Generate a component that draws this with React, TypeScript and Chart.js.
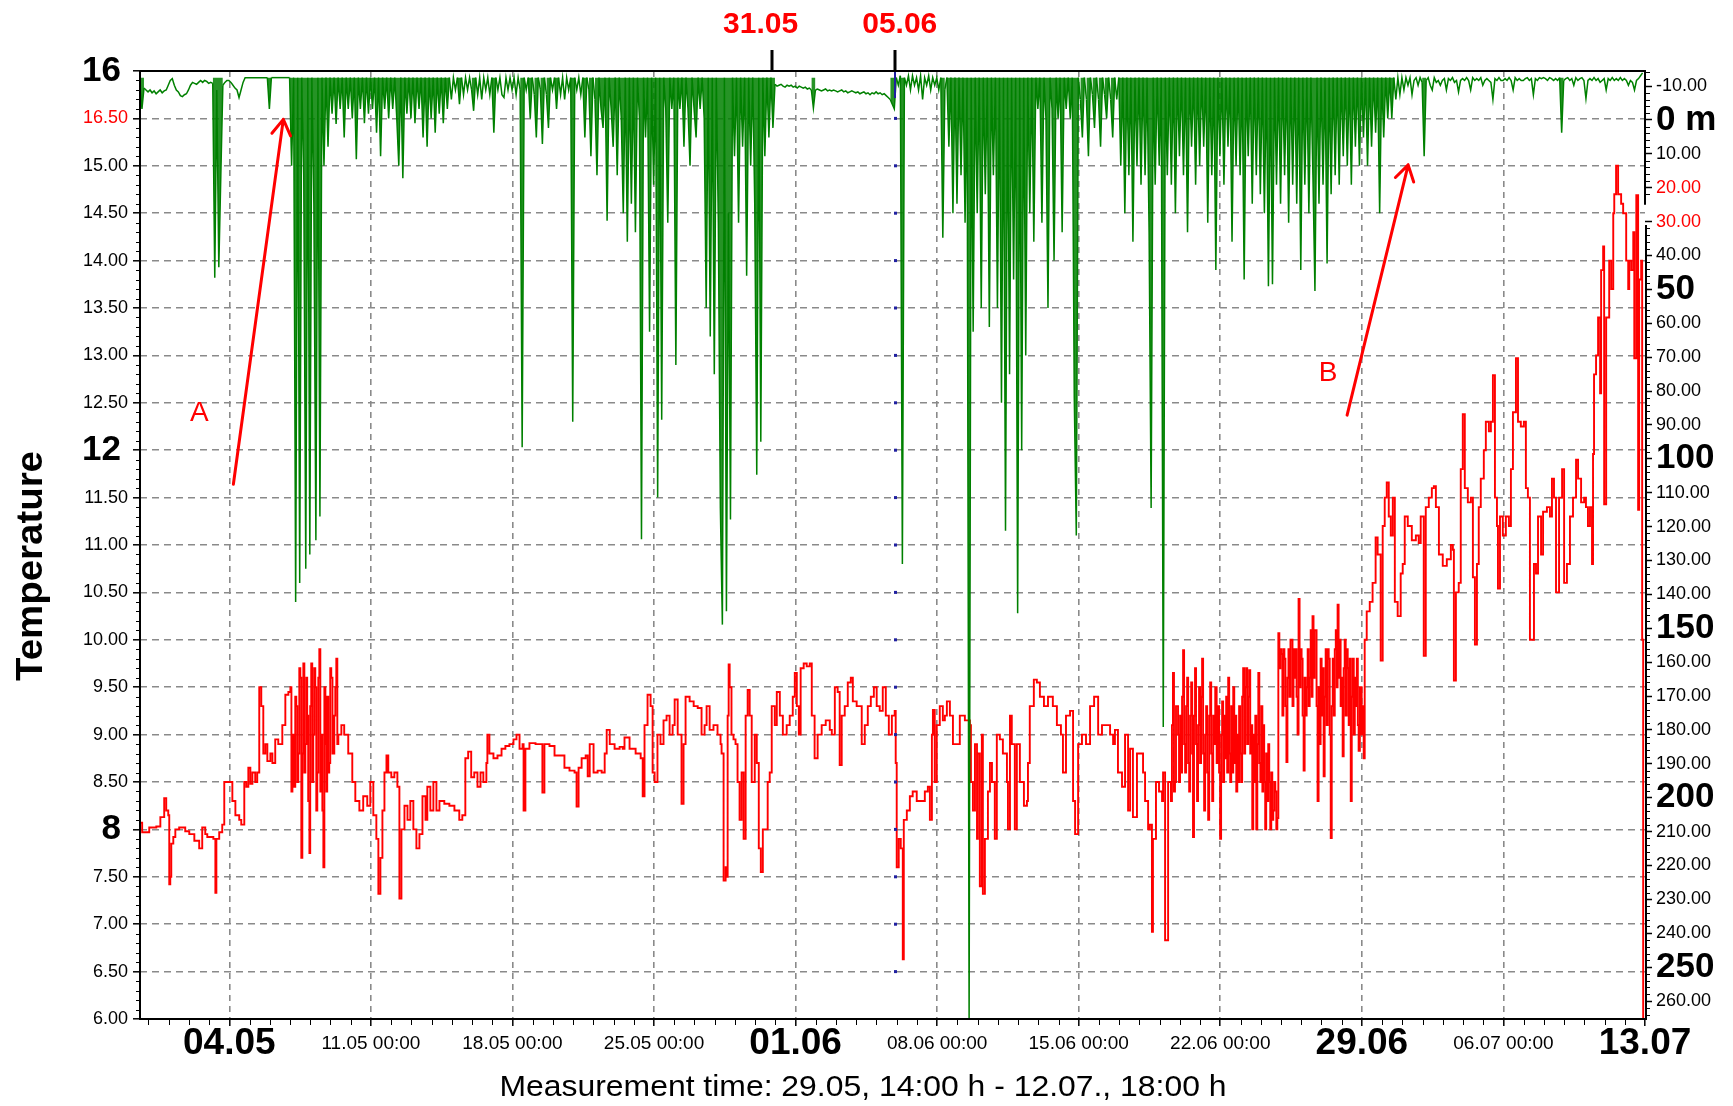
import React, { useEffect, useRef } from 'react';
import { Chart, registerables } from 'chart.js';

Chart.register(...registerables);

const FONT = '"Liberation Sans", Arial, Helvetica, sans-serif';

// ---- x axis: days since 01.05 00:00 ----
const xStartDay = -1.4167; // 29.04 14:00
const xEndDay = 73; // 13.07 00:00
const xTickDays = [3, 10, 17, 24, 31, 38, 45, 52, 59, 66, 73];
const xTickLabels = ['04.05', '11.05 00:00', '18.05 00:00', '25.05 00:00', '01.06', '08.06 00:00', '15.06 00:00', '22.06 00:00', '29.06', '06.07 00:00', '13.07'];
const xTickBold = [true, false, false, false, true, false, false, false, true, false, true];

// ---- left axis: temperature ----
const tempMin = 6;
const tempMax = 16;
const tempTickValues = [6, 6.5, 7, 7.5, 8, 8.5, 9, 9.5, 10, 10.5, 11, 11.5, 12, 12.5, 13, 13.5, 14, 14.5, 15, 15.5, 16];
const tempTickLabels = ['6.00', '6.50', '7.00', '7.50', '8\u2009', '8.50', '9.00', '9.50', '10.00', '10.50', '11.00', '11.50', '12\u2009', '12.50', '13.00', '13.50', '14.00', '14.50', '15.00', '16.50', '16\u2009'];
const tempTickStyles = ['n', 'n', 'n', 'n', 'b', 'n', 'n', 'n', 'n', 'n', 'n', 'n', 'b', 'n', 'n', 'n', 'n', 'n', 'n', 'r', 'b'];

// ---- right axis: depth ----
const depthMin = -14.43;
const depthMax = 265.3;
const depthTickValues = [-10, 0, 10, 20, 30, 40, 50, 60, 70, 80, 90, 100, 110, 120, 130, 140, 150, 160, 170, 180, 190, 200, 210, 220, 230, 240, 250, 260];
const depthTickLabels = ['-10.00', '0 m', '10.00', '20.00', '30.00', '40.00', '50', '60.00', '70.00', '80.00', '90.00', '100', '110.00', '120.00', '130.00', '140.00', '150', '160.00', '170.00', '180.00', '190.00', '200', '210.00', '220.00', '230.00', '240.00', '250', '260.00'];
const depthTickStyles = ['n', 'b', 'n', 'r', 'r', 'n', 'b', 'n', 'n', 'n', 'n', 'b', 'n', 'n', 'n', 'n', 'b', 'n', 'n', 'n', 'n', 'b', 'n', 'n', 'n', 'n', 'b', 'n'];
const depthAxisGap = [25, 31];

// ---- red series: [day, temperature] ----
const redSeries: [number, number][] = [
  [-1.37, 8.07], [-1.31, 7.97], [-0.96, 8.02], [-0.61, 8.03], [-0.41, 8.13], [-0.22, 8.33], [-0.12, 8.2], [-0.02, 8.15], [0.03, 7.42], [0.08, 7.5], [0.13, 7.85], [0.23, 7.92], [0.33, 8.0], [0.52, 8.02], [0.82, 7.98], [1.02, 7.95], [1.27, 7.88], [1.51, 7.8], [1.66, 8.02], [1.81, 7.95], [1.91, 7.92], [2.21, 7.9], [2.31, 7.33], [2.36, 7.9], [2.5, 7.97], [2.65, 8.05], [2.75, 8.5], [3.05, 8.5], [3.15, 8.3], [3.3, 8.15], [3.49, 8.1], [3.59, 8.05], [3.74, 8.5], [3.84, 8.45], [3.94, 8.65], [4.04, 8.48], [4.14, 8.6], [4.28, 8.5], [4.38, 8.6], [4.48, 9.5], [4.58, 9.3], [4.68, 8.8], [4.78, 8.9], [4.88, 8.72], [5.03, 8.8], [5.13, 8.7], [5.27, 8.95], [5.42, 8.9], [5.62, 9.1], [5.77, 9.42], [5.92, 9.45], [6.02, 9.5], [6.07, 8.4], [6.12, 9.0], [6.21, 8.45], [6.26, 9.4], [6.31, 9.3], [6.36, 8.5], [6.41, 8.8], [6.46, 9.7], [6.51, 9.6], [6.56, 7.7], [6.61, 8.8], [6.66, 9.75], [6.71, 8.6], [6.76, 8.9], [6.81, 9.6], [6.85, 9.2], [6.9, 8.3], [6.96, 7.75], [7.0, 9.3], [7.05, 9.75], [7.1, 8.5], [7.15, 9.0], [7.2, 9.7], [7.25, 9.5], [7.3, 8.2], [7.35, 8.6], [7.4, 9.6], [7.45, 9.9], [7.5, 8.4], [7.55, 9.0], [7.6, 8.2], [7.65, 7.6], [7.7, 9.5], [7.75, 8.9], [7.8, 8.4], [7.84, 9.4], [7.89, 8.6], [7.94, 8.7], [7.99, 9.7], [8.04, 9.6], [8.1, 8.8], [8.19, 9.2], [8.24, 9.5], [8.29, 9.8], [8.34, 8.9], [8.39, 9.0], [8.54, 9.1], [8.68, 9.0], [8.88, 8.8], [9.08, 8.5], [9.23, 8.3], [9.43, 8.2], [9.62, 8.35], [9.82, 8.25], [9.97, 8.5], [10.12, 8.15], [10.27, 7.9], [10.37, 7.32], [10.47, 7.7], [10.57, 8.2], [10.67, 8.6], [10.77, 8.78], [10.86, 8.6], [11.01, 8.55], [11.16, 8.6], [11.31, 8.45], [11.41, 7.27], [11.51, 8.0], [11.66, 8.25], [11.81, 8.1], [11.95, 8.3], [12.1, 8.0], [12.25, 7.8], [12.4, 7.95], [12.55, 8.35], [12.7, 8.1], [12.79, 8.45], [12.94, 8.2], [13.09, 8.5], [13.24, 8.2], [13.39, 8.3], [13.63, 8.27], [13.88, 8.25], [14.13, 8.2], [14.37, 8.1], [14.52, 8.15], [14.67, 8.75], [14.81, 8.82], [14.96, 8.55], [15.11, 8.6], [15.27, 8.45], [15.42, 8.6], [15.56, 8.5], [15.71, 8.7], [15.76, 9.0], [15.86, 8.8], [16.06, 8.75], [16.26, 8.78], [16.46, 8.85], [16.65, 8.88], [16.85, 8.9], [17.05, 8.95], [17.2, 9.0], [17.35, 8.85], [17.5, 8.9], [17.55, 8.2], [17.64, 8.85], [17.84, 8.91], [18.14, 8.9], [18.33, 8.9], [18.48, 8.39], [18.58, 8.9], [18.83, 8.88], [19.08, 8.78], [19.33, 8.78], [19.57, 8.65], [19.82, 8.62], [20.07, 8.6], [20.17, 8.24], [20.27, 8.65], [20.42, 8.75], [20.62, 8.78], [20.72, 8.56], [20.82, 8.9], [21.01, 8.6], [21.21, 8.62], [21.41, 8.6], [21.56, 8.8], [21.66, 9.05], [21.81, 8.9], [22.05, 8.85], [22.3, 8.87], [22.45, 8.85], [22.54, 8.97], [22.79, 8.85], [23.09, 8.8], [23.34, 8.75], [23.44, 8.35], [23.53, 9.1], [23.68, 9.42], [23.83, 9.3], [23.93, 8.6], [24.03, 8.5], [24.17, 9.0], [24.32, 8.9], [24.47, 9.15], [24.62, 9.2], [24.77, 9.0], [24.92, 9.1], [25.02, 9.37], [25.17, 9.0], [25.36, 8.27], [25.46, 8.9], [25.56, 9.4], [25.76, 9.35], [25.96, 9.3], [26.16, 9.28], [26.35, 9.0], [26.5, 9.1], [26.6, 9.3], [26.75, 9.05], [26.94, 9.1], [27.14, 9.0], [27.29, 8.9], [27.34, 8.8], [27.44, 7.46], [27.54, 7.6], [27.59, 7.5], [27.64, 9.2], [27.69, 9.74], [27.74, 9.5], [27.83, 9.0], [27.93, 8.95], [28.03, 8.9], [28.13, 8.5], [28.23, 8.1], [28.33, 8.6], [28.43, 7.9], [28.53, 9.2], [28.63, 9.47], [28.73, 9.2], [28.83, 8.5], [28.98, 9.0], [29.08, 8.7], [29.18, 7.8], [29.28, 7.55], [29.38, 8.0], [29.52, 8.0], [29.62, 8.5], [29.72, 8.6], [29.82, 9.3], [29.97, 9.1], [30.07, 9.45], [30.22, 9.2], [30.37, 9.0], [30.56, 9.1], [30.71, 9.2], [30.86, 9.4], [30.96, 9.65], [31.06, 9.3], [31.16, 9.0], [31.25, 9.7], [31.4, 9.75], [31.55, 9.72], [31.7, 9.75], [31.8, 9.2], [31.94, 8.75], [32.09, 9.0], [32.29, 9.1], [32.49, 9.15], [32.69, 9.05], [32.79, 9.0], [32.94, 9.5], [33.08, 9.45], [33.18, 8.68], [33.28, 9.2], [33.43, 9.3], [33.58, 9.55], [33.73, 9.6], [33.83, 9.35], [34.02, 9.3], [34.27, 8.9], [34.42, 9.1], [34.57, 9.3], [34.72, 9.4], [34.87, 9.5], [35.01, 9.3], [35.16, 9.25], [35.31, 9.5], [35.46, 9.2], [35.61, 9.0], [35.76, 9.2], [35.9, 9.25], [35.95, 8.7], [36.0, 7.6], [36.1, 7.9], [36.2, 7.8], [36.3, 6.63], [36.35, 8.1], [36.5, 8.2], [36.65, 8.35], [36.79, 8.4], [36.99, 8.3], [37.19, 8.3], [37.39, 8.4], [37.54, 8.45], [37.64, 8.1], [37.74, 9.0], [37.79, 9.26], [37.88, 8.5], [37.98, 9.1], [38.13, 9.3], [38.28, 9.15], [38.38, 9.2], [38.48, 9.35], [38.63, 9.2], [38.78, 8.9], [38.97, 8.9], [39.12, 9.2], [39.37, 9.15], [39.62, 9.1], [39.67, 8.5], [39.77, 8.2], [39.87, 8.9], [39.97, 7.9], [40.01, 8.8], [40.11, 7.4], [40.21, 9.0], [40.26, 7.32], [40.36, 7.9], [40.51, 8.4], [40.61, 8.7], [40.71, 8.5], [40.85, 7.9], [40.95, 9.0], [41.1, 8.95], [41.25, 8.8], [41.45, 8.5], [41.5, 8.0], [41.6, 9.2], [41.69, 8.9], [41.84, 8.0], [41.94, 8.9], [42.09, 8.5], [42.29, 8.25], [42.44, 8.3], [42.49, 8.7], [42.58, 9.3], [42.78, 9.58], [42.93, 9.55], [43.08, 9.4], [43.28, 9.3], [43.48, 9.4], [43.72, 9.3], [43.92, 9.1], [44.12, 9.0], [44.22, 8.6], [44.37, 9.2], [44.57, 9.25], [44.72, 8.3], [44.82, 7.95], [44.97, 8.9], [45.16, 9.0], [45.36, 8.9], [45.56, 9.3], [45.76, 9.4], [45.96, 9.0], [46.15, 9.1], [46.35, 9.1], [46.55, 9.0], [46.7, 8.9], [46.79, 9.05], [46.94, 8.6], [47.14, 8.45], [47.29, 9.0], [47.44, 8.2], [47.54, 8.85], [47.68, 8.13], [47.88, 8.8], [48.03, 8.8], [48.18, 8.6], [48.28, 8.3], [48.43, 8.0], [48.52, 8.05], [48.62, 6.92], [48.67, 7.9], [48.82, 8.5], [48.97, 8.4], [49.12, 8.3], [49.17, 8.6], [49.27, 6.83], [49.42, 8.5], [49.56, 8.3], [49.61, 9.1], [49.66, 9.65], [49.71, 8.4], [49.76, 8.5], [49.81, 9.3], [49.91, 9.0], [49.96, 8.5], [50.01, 9.2], [50.06, 8.6], [50.11, 9.4], [50.16, 9.89], [50.21, 8.9], [50.26, 8.6], [50.31, 9.3], [50.36, 9.6], [50.41, 8.7], [50.46, 8.4], [50.51, 9.2], [50.56, 9.55], [50.61, 8.8], [50.65, 7.92], [50.7, 9.2], [50.75, 9.7], [50.8, 8.9], [50.85, 8.3], [50.9, 9.1], [50.95, 9.5], [51.0, 8.7], [51.05, 9.4], [51.1, 9.8], [51.15, 8.8], [51.2, 8.2], [51.25, 9.0], [51.3, 9.3], [51.35, 8.6], [51.4, 8.1], [51.45, 9.2], [51.5, 9.55], [51.55, 8.8], [51.6, 8.3], [51.65, 9.2], [51.7, 8.9], [51.75, 9.5], [51.82, 8.7], [51.89, 9.3], [51.94, 8.6], [51.99, 7.9], [52.04, 9.0], [52.09, 9.35], [52.14, 8.5], [52.19, 9.2], [52.24, 8.75], [52.29, 9.4], [52.34, 8.6], [52.39, 9.6], [52.44, 8.8], [52.49, 8.5], [52.54, 9.3], [52.59, 8.6], [52.64, 9.5], [52.69, 8.7], [52.74, 9.2], [52.79, 8.4], [52.84, 9.0], [52.89, 8.5], [52.93, 9.3], [52.98, 8.8], [53.03, 8.5], [53.08, 9.4], [53.13, 9.7], [53.18, 8.8], [53.23, 9.5], [53.28, 9.7], [53.33, 8.9], [53.38, 9.4], [53.43, 9.68], [53.48, 8.8], [53.53, 9.1], [53.58, 8.0], [53.63, 9.0], [53.68, 8.5], [53.73, 9.2], [53.78, 8.0], [53.83, 8.9], [53.88, 9.65], [53.93, 8.7], [53.98, 8.5], [54.03, 9.3], [54.08, 8.4], [54.12, 9.1], [54.17, 8.5], [54.22, 8.0], [54.27, 8.8], [54.32, 8.3], [54.37, 8.9], [54.42, 8.5], [54.47, 8.0], [54.52, 8.6], [54.57, 8.1], [54.62, 8.2], [54.67, 8.5], [54.72, 8.4], [54.77, 8.0], [54.82, 8.12], [54.87, 10.07], [54.92, 9.7], [54.97, 9.9], [55.02, 9.85], [55.07, 9.2], [55.12, 9.9], [55.17, 9.8], [55.22, 9.3], [55.27, 8.71], [55.32, 9.6], [55.37, 9.9], [55.42, 9.4], [55.47, 10.0], [55.52, 10.0], [55.57, 9.3], [55.62, 9.9], [55.67, 9.6], [55.72, 9.9], [55.77, 9.4], [55.82, 9.0], [55.87, 10.43], [55.92, 9.5], [55.97, 9.9], [56.02, 9.8], [56.07, 9.2], [56.12, 8.62], [56.17, 9.6], [56.22, 9.2], [56.27, 9.5], [56.32, 9.9], [56.37, 9.3], [56.42, 9.6], [56.47, 10.1], [56.52, 9.4], [56.56, 10.25], [56.61, 9.6], [56.66, 10.1], [56.71, 10.1], [56.76, 9.3], [56.81, 8.3], [56.86, 9.5], [56.91, 8.9], [56.96, 9.8], [57.01, 9.2], [57.06, 9.7], [57.11, 8.56], [57.16, 9.4], [57.21, 9.9], [57.26, 9.1], [57.31, 9.9], [57.36, 9.8], [57.41, 9.0], [57.46, 7.91], [57.51, 9.3], [57.56, 9.8], [57.61, 9.2], [57.66, 9.9], [57.71, 10.1], [57.76, 9.5], [57.8, 10.37], [57.85, 9.6], [57.9, 10.0], [57.95, 9.3], [58.0, 9.6], [58.05, 8.77], [58.1, 9.7], [58.15, 10.0], [58.2, 9.2], [58.25, 9.9], [58.3, 9.7], [58.35, 9.1], [58.4, 9.8], [58.45, 8.3], [58.5, 9.4], [58.55, 9.8], [58.6, 9.0], [58.65, 9.6], [58.7, 9.3], [58.75, 9.8], [58.8, 9.1], [58.84, 8.83], [58.9, 9.5], [58.99, 9.0], [59.04, 9.3], [59.09, 8.75], [59.14, 10.0], [59.24, 10.3], [59.39, 10.4], [59.53, 10.6], [59.68, 11.08], [59.78, 10.9], [59.93, 9.78], [60.03, 11.2], [60.13, 11.5], [60.23, 11.66], [60.33, 11.3], [60.43, 11.1], [60.53, 11.5], [60.63, 10.4], [60.77, 10.25], [60.92, 10.7], [61.02, 10.8], [61.12, 11.3], [61.27, 11.2], [61.47, 11.05], [61.67, 11.1], [61.81, 11.02], [61.91, 11.3], [62.06, 9.83], [62.16, 11.4], [62.31, 11.5], [62.46, 11.6], [62.56, 11.62], [62.66, 11.4], [62.81, 10.9], [63.0, 10.78], [63.2, 10.85], [63.4, 11.0], [63.5, 10.95], [63.55, 9.57], [63.65, 10.5], [63.79, 10.6], [63.89, 11.8], [63.99, 12.38], [64.09, 11.6], [64.24, 11.45], [64.39, 11.5], [64.49, 10.66], [64.59, 9.95], [64.69, 10.8], [64.78, 11.4], [64.88, 11.7], [65.03, 12.0], [65.13, 12.3], [65.28, 12.2], [65.38, 12.3], [65.48, 12.79], [65.58, 11.5], [65.68, 11.2], [65.73, 10.54], [65.83, 11.3], [65.97, 11.1], [66.12, 11.3], [66.27, 11.2], [66.37, 11.8], [66.47, 12.4], [66.62, 12.97], [66.72, 12.3], [66.86, 12.25], [67.01, 12.3], [67.11, 11.6], [67.21, 11.5], [67.31, 10.0], [67.41, 10.0], [67.51, 10.8], [67.61, 10.7], [67.71, 11.3], [67.86, 10.9], [67.96, 11.35], [68.15, 11.4], [68.3, 11.3], [68.4, 11.7], [68.5, 11.5], [68.6, 10.5], [68.75, 11.5], [68.9, 11.8], [69.0, 10.6], [69.14, 10.8], [69.29, 11.3], [69.44, 11.5], [69.59, 11.9], [69.69, 11.7], [69.84, 11.45], [69.99, 11.5], [70.08, 11.4], [70.18, 11.2], [70.28, 11.4], [70.38, 10.8], [70.43, 11.96], [70.48, 12.8], [70.58, 13.0], [70.68, 13.4], [70.78, 12.6], [70.83, 13.9], [70.93, 14.15], [70.98, 11.43], [71.08, 13.4], [71.23, 14.0], [71.33, 13.7], [71.43, 14.5], [71.48, 14.7], [71.57, 15.0], [71.67, 14.7], [71.82, 14.6], [71.92, 14.5], [72.07, 14.0], [72.17, 13.7], [72.22, 14.0], [72.32, 13.9], [72.42, 14.3], [72.47, 12.97], [72.57, 14.69], [72.66, 11.37], [72.71, 13.8], [72.81, 14.0], [72.86, 10.0], [72.91, 6.0],
];

// ---- green series: temperature sampled every 0.1 day from 29.04 14:00 ----
const greenStartDay = -1.42;
const greenStepDays = 0.1;
const greenTemps: number[] = [
  15.85, 15.6, 15.82, 15.8, 15.78, 15.8, 15.77, 15.79, 15.76, 15.78, 15.8, 15.77, 15.79, 15.8,
  15.85, 15.9, 15.92, 15.85, 15.8, 15.78, 15.74, 15.73, 15.75, 15.76, // day 0
  15.8, 15.85, 15.88, 15.87, 15.86, 15.88, 15.9, 15.88, 15.9, 15.89, // day 1
  15.87, 15.88, 15.87, 13.82, 15.8, 13.93, 14.9, 15.85, 15.88, 15.9, // day 2
  15.9, 15.88, 15.85, 15.82, 15.8, 15.72, 15.8, 15.88, 15.93, 15.93, // day 3
  15.93, 15.93, 15.93, 15.93, 15.93, 15.93, 15.93, 15.93, 15.93, 15.93, // day 4
  15.6, 15.93, 15.93, 15.93, 15.93, 15.93, 15.93, 15.93, 15.93, 15.93, // day 5
  15.93, 15.0, 15.93, 10.4, 15.93, 10.6, 15.93, 14.9, 10.75, 15.93, // day 6
  10.9, 15.93, 14.6, 11.05, 15.93, 11.3, 15.93, 15.0, 15.93, 15.2, // day 7
  15.93, 15.55, 15.93, 15.44, 15.93, 15.6, 15.93, 15.3, 15.93, 15.6, // day 8
  15.93, 15.5, 15.93, 15.07, 15.93, 15.6, 15.93, 15.45, 15.93, 15.55, // day 9
  15.93, 15.6, 15.93, 15.35, 15.93, 15.1, 15.93, 15.6, 15.93, 15.5, // day 10
  15.93, 15.6, 15.93, 15.5, 15.0, 15.93, 14.87, 15.93, 15.55, 15.93, // day 11
  15.5, 15.93, 15.45, 15.93, 15.6, 15.93, 15.3, 15.93, 15.2, 15.93, // day 12
  15.5, 15.93, 15.35, 15.93, 15.55, 15.93, 15.45, 15.93, 15.6, 15.93, // day 13
  15.7, 15.93, 15.8, 15.93, 15.65, 15.93, 15.75, 15.93, 15.8, 15.93, // day 14
  15.8, 15.58, 15.93, 15.75, 15.93, 15.7, 15.93, 15.8, 15.93, 15.75, // day 15
  15.93, 15.35, 15.93, 15.8, 15.93, 15.75, 15.72, 15.93, 15.8, 15.93, // day 16
  15.8, 15.93, 15.75, 15.93, 15.8, 12.03, 15.93, 15.8, 15.93, 15.5, // day 17
  15.93, 15.75, 15.3, 15.93, 15.8, 15.23, 15.93, 15.75, 15.4, 15.93, // day 18
  15.8, 15.93, 15.6, 15.93, 15.75, 15.93, 15.7, 15.93, 15.8, 15.93, // day 19
  12.3, 15.93, 15.8, 15.93, 15.75, 15.93, 15.3, 15.93, 15.8, 15.1, // day 20
  15.93, 15.7, 14.9, 15.93, 15.6, 15.4, 15.93, 14.42, 15.93, 15.6, // day 21
  15.2, 15.93, 14.9, 15.93, 15.5, 14.5, 15.93, 14.2, 15.93, 14.6, // day 22
  15.93, 14.3, 15.93, 15.5, 11.06, 15.93, 15.3, 15.93, 13.25, 15.93, // day 23
  14.8, 15.93, 11.5, 15.93, 12.32, 15.93, 15.6, 14.4, 15.93, 15.6, // day 24
  15.93, 12.9, 15.93, 15.6, 15.93, 15.2, 15.93, 15.6, 15.0, 15.93, // day 25
  15.6, 15.3, 15.93, 15.6, 15.93, 15.5, 13.5, 15.93, 13.2, 15.93, // day 26
  12.8, 15.93, 14.4, 11.39, 10.16, 15.93, 10.3, 14.5, 11.27, 15.93, // day 27
  15.1, 15.93, 14.4, 15.93, 15.2, 15.93, 13.84, 15.93, 15.0, 15.93, // day 28
  14.6, 11.74, 15.93, 12.09, 15.93, 15.1, 15.93, 15.3, 15.93, 15.4, // day 29
  15.86, 15.84, 15.85, 15.86, 15.84, 15.83, 15.85, 15.84, 15.85, 15.83, // day 30
  15.84, 15.82, 15.84, 15.83, 15.82, 15.83, 15.81, 15.82, 15.8, 15.61, // day 31
  15.8, 15.81, 15.8, 15.79, 15.8, 15.81, 15.79, 15.8, 15.79, 15.8, // day 32
  15.79, 15.78, 15.79, 15.8, 15.78, 15.79, 15.77, 15.78, 15.79, 15.78, // day 33
  15.77, 15.78, 15.76, 15.77, 15.78, 15.76, 15.77, 15.75, 15.77, 15.76, // day 34
  15.78, 15.76, 15.77, 15.75, 15.76, 15.74, 15.72, 15.7, 15.65, 15.6, // day 35
  15.93, 15.85, 15.95, 10.8, 15.93, 15.85, 15.95, 15.8, 15.95, 15.85, // day 36
  15.93, 15.8, 15.95, 15.7, 15.93, 15.85, 15.95, 15.8, 15.93, 15.85, // day 37
  15.93, 15.8, 15.93, 14.24, 15.8, 15.93, 15.2, 15.93, 14.5, 15.93, // day 38
  14.6, 15.93, 14.9, 15.93, 14.4, 15.93, 6.0, 15.93, 13.25, 15.93, // day 39
  14.5, 15.93, 13.5, 15.93, 14.7, 15.93, 13.3, 15.93, 14.9, 15.93, // day 40
  13.5, 15.93, 12.5, 15.93, 11.15, 15.93, 12.8, 15.93, 13.8, 15.93, // day 41
  10.28, 15.93, 12.0, 15.93, 13.0, 15.93, 14.5, 15.93, 14.2, 15.93, // day 42
  15.6, 15.93, 14.4, 15.93, 15.5, 13.5, 15.93, 15.6, 14.0, 15.93, // day 43
  15.5, 15.93, 14.3, 15.93, 15.6, 15.93, 15.5, 15.93, 12.55, 11.1, // day 44
  15.93, 15.7, 15.3, 15.93, 15.7, 15.1, 15.93, 15.75, 15.4, 15.93, // day 45
  15.7, 15.2, 15.93, 15.75, 15.5, 15.93, 15.7, 15.3, 15.93, 15.7, // day 46
  15.93, 15.0, 15.93, 14.5, 15.93, 14.9, 15.93, 14.2, 15.93, 15.0, // day 47
  15.93, 14.8, 15.93, 14.9, 15.93, 14.3, 11.39, 15.93, 14.8, 15.93, // day 48
  15.0, 15.93, 9.08, 15.93, 14.9, 15.93, 14.8, 15.93, 14.5, 15.93, // day 49
  15.1, 15.93, 14.9, 15.93, 14.3, 15.93, 15.2, 15.93, 14.8, 15.93, // day 50
  15.0, 15.93, 15.2, 15.93, 14.4, 15.93, 14.9, 15.93, 13.9, 15.93, // day 51
  15.1, 15.93, 14.8, 15.93, 15.2, 15.93, 14.2, 15.93, 15.0, 15.93, // day 52
  14.9, 15.93, 13.8, 15.93, 15.1, 15.93, 14.6, 15.93, 14.9, 15.93, // day 53
  14.7, 15.93, 14.5, 15.93, 13.73, 15.93, 13.75, 15.93, 14.8, 15.93, // day 54
  14.6, 15.93, 14.9, 15.93, 14.4, 15.93, 14.8, 15.93, 14.6, 15.93, // day 55
  13.9, 15.93, 14.8, 15.93, 14.5, 15.93, 14.9, 13.68, 15.93, 14.6, // day 56
  15.93, 14.8, 15.93, 13.97, 15.93, 14.7, 15.93, 14.9, 15.93, 14.8, // day 57
  15.93, 15.1, 15.93, 15.0, 15.93, 14.8, 15.93, 15.2, 15.93, 15.0, // day 58
  15.93, 15.3, 15.93, 15.0, 15.93, 15.2, 15.93, 15.35, 15.93, 14.5, // day 59
  15.93, 15.3, 15.93, 15.5, 15.93, 15.5, 15.93, 15.7, 15.93, 15.75, // day 60
  15.93, 15.8, 15.93, 15.85, 15.93, 15.75, 15.9, 15.93, 15.85, 15.93, // day 61
  15.88, 15.1, 15.9, 15.93, 15.85, 15.8, 15.93, 15.88, 15.9, 15.85, // day 62
  15.9, 15.92, 15.8, 15.92, 15.9, 15.93, 15.88, 15.9, 15.78, 15.9, // day 63
  15.92, 15.9, 15.93, 15.9, 15.8, 15.93, 15.9, 15.92, 15.9, 15.93, // day 64
  15.85, 15.9, 15.92, 15.9, 15.88, 15.7, 15.92, 15.9, 15.93, 15.9, // day 65
  15.9, 15.92, 15.9, 15.93, 15.9, 15.8, 15.93, 15.9, 15.92, 15.9, // day 66
  15.9, 15.92, 15.93, 15.9, 15.92, 15.75, 15.92, 15.9, 15.93, 15.92, // day 67
  15.93, 15.92, 15.9, 15.93, 15.92, 15.9, 15.92, 15.9, 15.93, 15.35, // day 68
  15.9, 15.92, 15.93, 15.9, 15.92, 15.85, 15.93, 15.9, 15.92, 15.93, // day 69
  15.9, 15.71, 15.9, 15.92, 15.9, 15.93, 15.9, 15.92, 15.88, 15.9, // day 70
  15.92, 15.8, 15.92, 15.9, 15.93, 15.9, 15.92, 15.9, 15.93, 15.9, // day 71
  15.92, 15.9, 15.85, 15.9, 15.88, 15.8, 15.9, 15.92, 15.95, 15.98, // day 72
];
// spikes below this level are drawn as a filled comb up to the surface line
const greenFillBelow = 15.68;
const greenSurface = 15.93;

// ---- annotations (data coordinates: day, temperature) ----
const topMarkerDays = [29.82, 35.9];
const topMarkerLabelDays = [29.27, 36.15];
const topMarkerLabels = ['31.05', '05.06'];
const arrowA = { from: [3.2, 11.64], to: [5.67, 15.49], label: 'A', labelAt: [1.52, 12.39] };
const arrowB = { from: [58.27, 12.37], to: [61.29, 15.01], label: 'B', labelAt: [57.33, 12.81] };
const blueMarkerDay = 35.9;

const xTitle = 'Measurement time: 29.05, 14:00 h - 12.07., 18:00 h';
const yTitle = 'Temperature';

function fitText(ctx: CanvasRenderingContext2D, text: string, cx: number, cy: number, font: string, width: number, color: string, rot = 0) {
  ctx.save();
  ctx.font = font;
  ctx.fillStyle = color;
  ctx.textAlign = 'center';
  ctx.textBaseline = 'middle';
  const w = ctx.measureText(text).width;
  ctx.translate(cx, cy);
  if (rot) ctx.rotate(rot);
  ctx.scale(width / w, 1);
  ctx.fillText(text, 0, 0);
  ctx.restore();
}

function drawArrow(ctx: CanvasRenderingContext2D, x1: number, y1: number, x2: number, y2: number, head: number) {
  const ang = Math.atan2(y2 - y1, x2 - x1);
  ctx.beginPath();
  ctx.moveTo(x1, y1);
  ctx.lineTo(x2, y2);
  ctx.moveTo(x2, y2);
  ctx.lineTo(x2 - head * Math.cos(ang - 0.55), y2 - head * Math.sin(ang - 0.55));
  ctx.moveTo(x2, y2);
  ctx.lineTo(x2 - head * Math.cos(ang + 0.55), y2 - head * Math.sin(ang + 0.55));
  ctx.stroke();
}

const overlayPlugin = {
  id: 'overlay',
  afterDraw(chart: any) {
    const { ctx, chartArea: ca } = chart;
    const sx = chart.scales.x;
    const sy = chart.scales.y;
    const sd = chart.scales.y2;
    ctx.save();

    // blue marker
    const bx = Math.round(sx.getPixelForValue(blueMarkerDay));
    ctx.fillStyle = '#2020a0';
    ctx.fillRect(bx - 1, ca.top, 2, 27);
    for (const v of tempTickValues) {
      if (v <= tempMin || v >= tempMax) continue;
      ctx.fillRect(bx - 1, sy.getPixelForValue(v) - 1.5, 3, 3);
    }

    // minor ticks
    ctx.strokeStyle = '#000';
    ctx.lineWidth = 1;
    ctx.beginPath();
    for (let i = 60; i <= 160; i++) {
      if (i % 5 === 0) continue;
      const py = Math.round(sy.getPixelForValue(i / 10)) + 0.5;
      ctx.moveTo(ca.left - 4, py);
      ctx.lineTo(ca.left, py);
    }
    for (let d = -14; d <= 264; d += 2) {
      if (d % 10 === 0) continue;
      if (d > depthAxisGap[0] - 2 && d < depthAxisGap[1]) continue;
      const py = Math.round(sd.getPixelForValue(d)) + 0.5;
      ctx.moveTo(ca.right, py);
      ctx.lineTo(ca.right + 5, py);
    }
    for (let d = -1; d <= 73; d++) {
      if (xTickDays.includes(d)) continue;
      const px = Math.round(sx.getPixelForValue(d)) + 0.5;
      ctx.moveTo(px, ca.bottom);
      ctx.lineTo(px, ca.bottom + 6);
    }
    ctx.stroke();

    // frame
    ctx.lineWidth = 2;
    ctx.beginPath();
    ctx.moveTo(ca.left, ca.top);
    ctx.lineTo(ca.right + 1, ca.top);
    ctx.moveTo(ca.left, ca.top);
    ctx.lineTo(ca.left, ca.bottom + 1);
    ctx.moveTo(ca.left, ca.bottom);
    ctx.lineTo(ca.right + 1, ca.bottom);
    ctx.moveTo(ca.right, ca.top);
    ctx.lineTo(ca.right, sd.getPixelForValue(depthAxisGap[0]));
    ctx.moveTo(ca.right + 1, sd.getPixelForValue(depthAxisGap[1]));
    ctx.lineTo(ca.right + 1, ca.bottom + 1);
    ctx.stroke();

    // top markers
    ctx.lineWidth = 3;
    ctx.beginPath();
    for (const d of topMarkerDays) {
      const px = Math.round(sx.getPixelForValue(d));
      ctx.moveTo(px, ca.top - 21);
      ctx.lineTo(px, ca.top);
    }
    ctx.stroke();
    ctx.fillStyle = '#ff0000';
    ctx.font = `bold 30px ${FONT}`;
    ctx.textAlign = 'center';
    ctx.textBaseline = 'middle';
    topMarkerLabels.forEach((t, i) => {
      ctx.fillText(t, sx.getPixelForValue(topMarkerLabelDays[i]), 25);
    });

    // arrows
    ctx.strokeStyle = '#ff0000';
    ctx.lineWidth = 3;
    ctx.lineCap = 'round';
    for (const a of [arrowA, arrowB]) {
      drawArrow(ctx, sx.getPixelForValue(a.from[0]), sy.getPixelForValue(a.from[1]), sx.getPixelForValue(a.to[0]), sy.getPixelForValue(a.to[1]), 18);
      ctx.font = `28px ${FONT}`;
      ctx.fillText(a.label, sx.getPixelForValue(a.labelAt[0]), sy.getPixelForValue(a.labelAt[1]));
    }

    // axis titles
    fitText(ctx, xTitle, 863, 1088, `30px ${FONT}`, 727, '#000');
    fitText(ctx, yTitle, 32, 566, `bold 36px ${FONT}`, 230, '#000', -Math.PI / 2);
    ctx.restore();
  },
};

const gridColor = '#8a8a8a';

export default function App() {
  const ref = useRef<HTMLCanvasElement>(null);
  useEffect(() => {
    if (!ref.current) return;
    const chart = new Chart(ref.current, {
      type: 'line',
      data: {
        datasets: [
          {
            label: 'green',
            data: greenTemps.map((y, i) => ({ x: greenStartDay + i * greenStepDays, y })),
            borderColor: '#008000',
            backgroundColor: 'rgba(0,128,0,0)',
            borderWidth: 1.5,
            pointRadius: 0,
            tension: 0,
            fill: { value: greenSurface },
            segment: {
              backgroundColor: (c: any) => (Math.min(c.p0.parsed.y, c.p1.parsed.y) < greenFillBelow ? 'rgba(0,128,0,0.85)' : 'rgba(0,128,0,0)'),
            },
            yAxisID: 'y',
          },
          {
            label: 'red',
            data: redSeries.map(([x, y]) => ({ x, y })),
            borderColor: '#ff0000',
            borderWidth: 1.9,
            pointRadius: 0,
            stepped: 'before',
            fill: false,
            yAxisID: 'y',
          },
        ],
      },
      plugins: [overlayPlugin],
      options: {
        responsive: false,
        animation: false,
        events: [],
        layout: { padding: { top: 71, left: 0, right: 0, bottom: 0 } },
        plugins: { legend: { display: false }, tooltip: { enabled: false }, title: { display: false }, filler: { propagate: false } },
        scales: {
          x: {
            type: 'linear',
            position: 'bottom',
            min: xStartDay,
            max: xEndDay,
            afterBuildTicks: (s: any) => { s.ticks = xTickDays.map((v) => ({ value: v })); },
            afterFit: (s: any) => { s.height = 87; },
            border: { display: false, dash: [6, 5] },
            grid: {
              color: (c: any) => (c.tick && c.tick.value >= xEndDay ? 'rgba(0,0,0,0)' : gridColor),
              lineWidth: 1.6,
              tickColor: '#000',
              tickLength: 7,
              tickWidth: 1.5,
            },
            ticks: {
              autoSkip: false,
              maxRotation: 0,
              padding: 0,
              color: '#000',
              font: (c: any) => (xTickBold[c.index] ? { family: FONT, size: 37, weight: 'bold', lineHeight: '36px' } : { family: FONT, size: 19, lineHeight: '36px' }),
              callback: (_v: any, i: number) => xTickLabels[i],
            },
          },
          y: {
            type: 'linear',
            position: 'left',
            min: tempMin,
            max: tempMax,
            afterBuildTicks: (s: any) => { s.ticks = tempTickValues.map((v) => ({ value: v })); },
            afterFit: (s: any) => { s.width = 140; },
            border: { display: false, dash: [7, 5] },
            grid: {
              color: (c: any) => (c.tick && (c.tick.value <= tempMin || c.tick.value >= tempMax) ? 'rgba(0,0,0,0)' : gridColor),
              lineWidth: 1.6,
              tickColor: '#000',
              tickLength: 7,
              tickWidth: 1.5,
            },
            ticks: {
              autoSkip: false,
              padding: 5,
              color: (c: any) => (tempTickStyles[c.index] === 'r' ? '#ff0000' : '#000'),
              font: (c: any) => (tempTickStyles[c.index] === 'b' ? { family: FONT, size: 35, weight: 'bold' } : { family: FONT, size: 18 }),
              callback: (_v: any, i: number) => tempTickLabels[i],
            },
          },
          y2: {
            type: 'linear',
            position: 'right',
            reverse: true,
            min: depthMin,
            max: depthMax,
            afterBuildTicks: (s: any) => { s.ticks = depthTickValues.map((v) => ({ value: v })); },
            afterFit: (s: any) => { s.width = 88; },
            border: { display: false },
            grid: {
              drawOnChartArea: false,
              color: '#000',
              tickColor: '#000',
              tickLength: 7,
              tickWidth: 1.5,
            },
            ticks: {
              autoSkip: false,
              padding: 4,
              color: (c: any) => (depthTickStyles[c.index] === 'r' ? '#ff0000' : '#000'),
              font: (c: any) => (depthTickStyles[c.index] === 'b' ? { family: FONT, size: 35, weight: 'bold' } : { family: FONT, size: 18 }),
              callback: (_v: any, i: number) => depthTickLabels[i],
            },
          },
        },
      } as any,
    });
    return () => chart.destroy();
  }, []);
  return (
    <div style={{ position: 'fixed', left: 0, top: 0, width: 1733, height: 1106, background: '#fff' }}>
      <canvas ref={ref} width={1733} height={1106} style={{ display: 'block', width: 1733, height: 1106 }} />
    </div>
  );
}
